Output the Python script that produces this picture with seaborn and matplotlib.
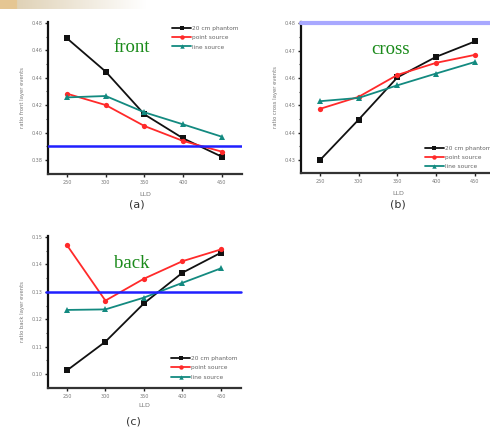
import numpy as np
import pandas as pd
import matplotlib
matplotlib.use("Agg")
import matplotlib.pyplot as plt
import seaborn as sns

sns.set_style("ticks")
plt.rcParams['font.family'] = ['DejaVu Sans']

lld = [250, 300, 350, 400, 450]
series_names = ["20 cm phantom", "point source", "line source"]

front_phantom = [0.4688, 0.4445, 0.4133, 0.3958, 0.3824]
front_point = [0.4284, 0.4201, 0.4048, 0.3939, 0.3861]
front_line = [0.4257, 0.4267, 0.4148, 0.4060, 0.3970]

cross_phantom = [0.4300, 0.4448, 0.4602, 0.4677, 0.4733]
cross_point = [0.4487, 0.4531, 0.4611, 0.4655, 0.4684]
cross_line = [0.4515, 0.4527, 0.4573, 0.4616, 0.4658]

back_phantom = [0.1013, 0.1118, 0.1258, 0.1370, 0.1443]
back_point = [0.1471, 0.1268, 0.1348, 0.1412, 0.1455]
back_line = [0.1234, 0.1236, 0.1279, 0.1333, 0.1386]

ref_front = 0.390
ref_cross = 0.480
ref_back = 0.130

front_ticks = [0.38, 0.40, 0.42, 0.44, 0.46, 0.48]
cross_ticks = [0.43, 0.44, 0.45, 0.46, 0.47, 0.48]
back_ticks = [0.10, 0.11, 0.12, 0.13, 0.14, 0.15]

palette = {"20 cm phantom": "#111111", "point source": "#ff2a2a", "line source": "#138a80"}
markers = {"20 cm phantom": "s", "point source": "o", "line source": "^"}

W, H = 490, 430
fig = plt.figure(figsize=(W / 100, H / 100), dpi=100)


def fx(px):
    return px / W


def fy(py):
    return 1 - py / H


def make_df(a, b, c):
    rows = []
    for name, vals in zip(series_names, [a, b, c]):
        for x, v in zip(lld, vals):
            rows.append({"LLD": x, "value": v, "source": name})
    return pd.DataFrame(rows)


def panel(rect, df, ylim, yticks, ylabel, legloc, leganchor, xlabelpad):
    ax = fig.add_axes(rect)
    sns.lineplot(data=df, x="LLD", y="value", hue="source", style="source",
                 palette=palette, markers=markers, dashes=False,
                 markersize=3.8, linewidth=1.3, markeredgewidth=0,
                 ax=ax, legend=True)
    ax.set_xlim(225.5, 476)
    ax.set_ylim(*ylim)
    ax.set_xticks(lld)
    ax.set_xticklabels([str(v) for v in lld])
    ax.set_yticks(yticks)
    ax.set_yticklabels([f"{t:.2f}" for t in yticks])
    ax.set_yticks([(yticks[i] + yticks[i + 1]) / 2 for i in range(len(yticks) - 1)], minor=True)
    ax.tick_params(axis="both", which="major", labelsize=3.5, length=2.5, width=1,
                   colors="#222222", labelcolor="#777777", pad=1.5)
    ax.tick_params(axis="y", which="minor", length=1.5, width=0.8, colors="#444444")
    ax.set_xlabel("LLD", fontsize=4.5, color="#777777", labelpad=xlabelpad)
    ax.set_ylabel(ylabel, fontsize=3.8, color="#777777", labelpad=5)
    for s in ["top", "right"]:
        ax.spines[s].set_visible(False)
    ax.spines["left"].set_linewidth(1.6)
    ax.spines["bottom"].set_linewidth(1.6)
    ax.spines["left"].set_color("#111111")
    ax.spines["bottom"].set_color("#333333")
    ax.set_facecolor("none")
    handles, labels = ax.get_legend_handles_labels()
    for h in handles:
        h.set_markersize(3.2)
    ax.legend(handles, labels, loc=legloc, bbox_to_anchor=leganchor, fontsize=4.2,
              frameon=False, handlelength=3.3, handletextpad=0.15, labelspacing=0.75,
              borderaxespad=0.2, labelcolor="#666666")
    return ax


# decorative banner top-left
bax = fig.add_axes([0, fy(9), fx(145), 9 / H])
grad = np.linspace(0, 1, 256)
c0 = np.array([0.86, 0.80, 0.68])
c1 = np.array([1.0, 1.0, 1.0])
img = np.array([[c0 * (1 - g) + c1 * g for g in grad]])
img[:, :30] = np.array([0.90, 0.78, 0.58])
bax.imshow(img, aspect="auto", extent=[0, 1, 0, 1])
bax.axis("off")

# (a) front
axa = panel([fx(48), fy(174), 194 / W, 152 / H], make_df(front_phantom, front_point, front_line),
            (0.3698, 0.4807), front_ticks, "ratio front layer events", "upper right", (1.0, 1.0), 5.5)
axa.axhline(ref_front, color="#2020ff", linewidth=1.8, zorder=5)

# (b) cross
axb = panel([fx(301), fy(173), 194 / W, 151 / H], make_df(cross_phantom, cross_point, cross_line),
            (0.4253, 0.4804), cross_ticks, "ratio cross layer events", "lower left", (0.62, 0.0), 5.5)
axb.axhline(ref_cross, color="#a8a8ff", linewidth=3, zorder=5, clip_on=False)

# (c) back
axc = panel([fx(48), fy(388), 193 / W, 152 / H], make_df(back_phantom, back_point, back_line),
            (0.0949, 0.1504), back_ticks, "ratio back layer events", "lower right", (1.0, 0.03), 3.5)
axc.axhline(ref_back, color="#2020ff", linewidth=1.8, zorder=5, xmin=-0.01, clip_on=False)

# panel titles
serif = ["Liberation Serif", "DejaVu Serif"]
fig.text(fx(132), fy(48), "front", fontsize=13.5, color="#1a8a1a", family=serif, ha="center", va="center")
fig.text(fx(390), fy(49), "cross", fontsize=13.5, color="#1a8a1a", family=serif, ha="center", va="center")
fig.text(fx(132), fy(264), "back", fontsize=13.5, color="#1a8a1a", family=serif, ha="center", va="center")

# sub-figure labels
fig.text(fx(137), fy(205), "(a)", fontsize=8, color="#333333", ha="center", va="center")
fig.text(fx(398), fy(205), "(b)", fontsize=8, color="#333333", ha="center", va="center")
fig.text(fx(133), fy(421), "(c)", fontsize=8, color="#333333", ha="center", va="center")

fig.savefig("out.png", dpi=100)
